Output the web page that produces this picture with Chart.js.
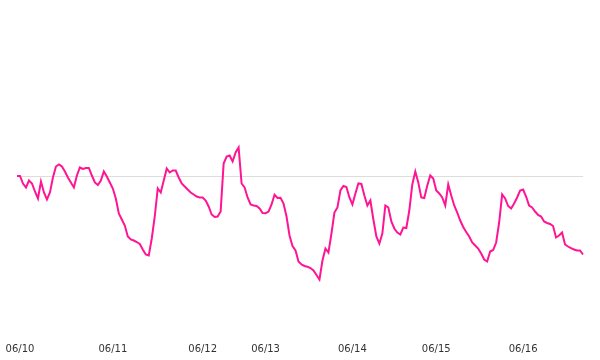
<!DOCTYPE html>
<html>
<head>
<meta charset="utf-8">
<script src="https://cdn.jsdelivr.net/npm/chart.js@4/dist/chart.umd.min.js"></script>
<style>
  body { margin: 0; background: #fff; }
  canvas { display: block; }
</style>
</head>
<body>
<canvas id="myChart" width="600" height="360"></canvas>
<script>
// change vs. start, one value per sample (190 samples)
const values = [
  0, 0, -0.75, -1.15, -0.45, -0.75, -1.55, -2.25, -0.55, -1.65,
  -2.35, -1.65, -0.15, 0.95, 1.15, 0.95, 0.45, -0.15, -0.65, -1.15,
  0.05, 0.85, 0.7, 0.8, 0.8, 0.05, -0.65, -0.9, -0.45, 0.45,
  -0.05, -0.65, -1.25, -2.25, -3.75, -4.35, -4.95, -6.05, -6.35, -6.45,
  -6.6, -6.8, -7.35, -7.85, -7.95, -6.25, -4.05, -1.25, -1.65, -0.45,
  0.75, 0.35, 0.55, 0.55, -0.15, -0.75, -1.05, -1.35, -1.65, -1.85,
  -2.05, -2.15, -2.15, -2.45, -3.05, -3.85, -4.1, -4.05, -3.55, 1.25,
  1.95, 2.05, 1.45, 2.35, 2.85, -0.75, -1.15, -2.15, -2.85, -2.95,
  -3.0, -3.25, -3.7, -3.72, -3.55, -2.85, -1.88, -2.2, -2.18, -2.75,
  -4.05, -5.95, -7.0, -7.45, -8.55, -8.85, -9.0, -9.08, -9.2, -9.45,
  -9.9, -10.35, -8.45, -7.25, -7.65, -5.75, -3.65, -3.15, -1.45, -1.0,
  -1.1, -2.15, -2.85, -1.75, -0.75, -0.8, -1.95, -2.95, -2.45, -4.35,
  -6.05, -6.75, -5.75, -2.95, -3.15, -4.55, -5.25, -5.65, -5.85, -5.15,
  -5.2, -3.45, -0.85, 0.45, -0.65, -2.15, -2.2, -0.95, 0.05, -0.25,
  -1.45, -1.75, -2.15, -2.95, -0.85, -1.95, -2.95, -3.65, -4.45, -5.1,
  -5.6, -6.05, -6.65, -6.95, -7.25, -7.75, -8.35, -8.55, -7.55, -7.4,
  -6.65, -4.65, -1.85, -2.25, -3.0, -3.25, -2.75, -2.15, -1.45, -1.35,
  -2.05, -2.95, -3.15, -3.55, -3.9, -4.05, -4.55, -4.7, -4.8, -5.0,
  -6.15, -5.95, -5.65, -6.85, -7.05, -7.22, -7.35, -7.45, -7.45, -7.85
]

// date tick labels and the sample each one sits under
const dateLabels = ['06/10', '06/11', '06/12', '06/13', '06/14', '06/15', '06/16']
const dateIndex = [1, 32, 62, 83, 112, 140, 169]

const labels = values.map(() => '')
dateIndex.forEach((idx, k) => { labels[idx] = dateLabels[k] })

new Chart(document.getElementById('myChart'), {
    type: 'line',
    data: {
        labels: labels,
        datasets: [
            {
                data: values,
                borderColor: '#ff1493',
                backgroundColor: 'transparent',
                borderWidth: 2,
                pointRadius: 0,
                tension: 0,
                fill: false
            }
        ]
    },
    options: {
        responsive: false,
        animation: false,
        layout: { padding: { left: 17, right: 17, top: 0, bottom: 0 } },
        plugins: {
            legend: { display: false },
            tooltip: { enabled: false }
        },
        scales: {
            x: {
                grid: { display: false, drawTicks: false },
                border: { display: false },
                ticks: {
                    autoSkip: false,
                    maxRotation: 0,
                    padding: 7,
                    color: '#333',
                    font: { family: 'DejaVu Sans', size: 10 }
                },
                afterFit: s => { s.height = 24 }
            },
            y: {
                min: -16,
                max: 17.6,
                border: { display: false },
                //only the zero line is shown
                grid: {
                    drawTicks: false,
                    color: ctx => ctx.tick && ctx.tick.value === 0 ? '#dddddd' : 'transparent'
                },
                ticks: { display: false, stepSize: 1 },
                afterFit: s => { s.width = 0 }
            }
        }
    }
})
</script>
</body>
</html>
